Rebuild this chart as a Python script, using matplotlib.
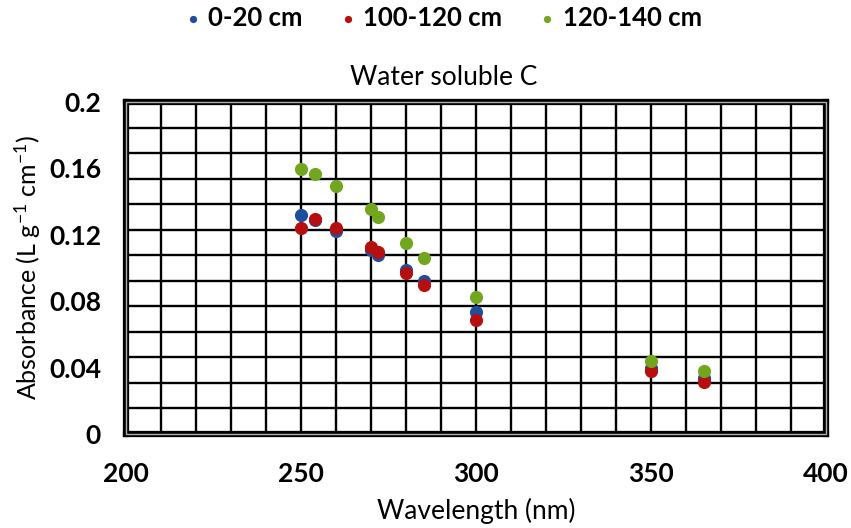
import numpy as np
import matplotlib
matplotlib.use("Agg")
import matplotlib.pyplot as plt
from matplotlib.patches import Rectangle

plt.rcParams['font.family'] = ['Lato', 'DejaVu Sans']
plt.rcParams['mathtext.fontset'] = 'custom'
plt.rcParams['mathtext.rm'] = 'Lato'
plt.rcParams['mathtext.it'] = 'Lato'

# wavelengths (nm) measured for every depth
wavelength = [250, 254, 260, 270, 272, 280, 285, 300, 350, 365]

# absorbance per depth
abs_0_20 = [0.132, 0.129, 0.122, 0.111, 0.108, 0.099, 0.092, 0.0735, 0.040, 0.0336]
abs_100_120 = [0.124, 0.1297, 0.1243, 0.1124, 0.1094, 0.0971, 0.0896, 0.0689, 0.0379, 0.0316]
abs_120_140 = [0.1597, 0.1567, 0.1495, 0.1353, 0.1309, 0.1152, 0.1061, 0.0826, 0.0439, 0.0379]

series_names = ['0-20 cm', '100-120 cm', '120-140 cm']
colors = ['#1F4E9E', '#B50F0F', '#72A61E']

y_ticks = [0, 0.04, 0.08, 0.12, 0.16, 0.2]
y_tick_labels = ['0', '0.04', '0.08', '0.12', '0.16', '0.2']
x_ticks = [200, 250, 300, 350, 400]

fig = plt.figure(figsize=(8.51, 5.28), dpi=100)
ax = fig.add_axes([126 / 851, 1 - 434 / 528, 700 / 851, 332 / 528])

for i, vals in enumerate([abs_0_20, abs_100_120, abs_120_140]):
    ax.scatter(wavelength, vals, s=90, color=colors[i], label=series_names[i],
               zorder=3 + i, linewidths=0)

ax.set_xlim(200, 400)
ax.set_ylim(0, 0.2)

# grid: every 10 nm across, 13 rows down
ax.xaxis.remove_overlapping_locs = False
ax.yaxis.remove_overlapping_locs = False
ax.set_xticks(np.arange(200, 401, 10), minor=True)
ax.set_yticks(np.linspace(0, 0.2, 14), minor=True)
ax.grid(which='minor', color='black', linewidth=1.7, zorder=1)
ax.set_axisbelow(True)

ax.set_xticks(x_ticks)
ax.set_yticks(y_ticks)
ax.set_yticklabels(y_tick_labels)
ax.tick_params(which='both', length=0)
ax.tick_params(axis='x', labelsize=19, pad=20)
ax.tick_params(axis='y', labelsize=19, pad=18)
for lab in ax.get_yticklabels() + ax.get_xticklabels():
    lab.set_fontweight('bold')

# double-line frame like the original
for sp in ax.spines.values():
    sp.set_linewidth(4.5)
    sp.set_color('black')
ax.add_patch(Rectangle((0, 0), 1, 1, transform=ax.transAxes, fill=False,
                       edgecolor='#b0b0b0', linewidth=1.0, clip_on=False, zorder=2.6))

ax.set_xlabel('Wavelength (nm)', fontsize=19, labelpad=9)
ax.set_ylabel('Absorbance (L g$^{\\mathrm{-1}}$ cm$^{\\mathrm{-1}}$)', fontsize=18, labelpad=4)
ax.set_title('Water soluble C', fontsize=19, pad=12, x=0.454)

fig.legend(loc='upper center', bbox_to_anchor=(0.521, 1.032), ncol=3, frameon=False,
           markerscale=0.55, handlelength=0.6, handletextpad=0.3, columnspacing=1.45,
           prop={'weight': 'bold', 'size': 18.5})

fig.savefig('out.png', dpi=100)
